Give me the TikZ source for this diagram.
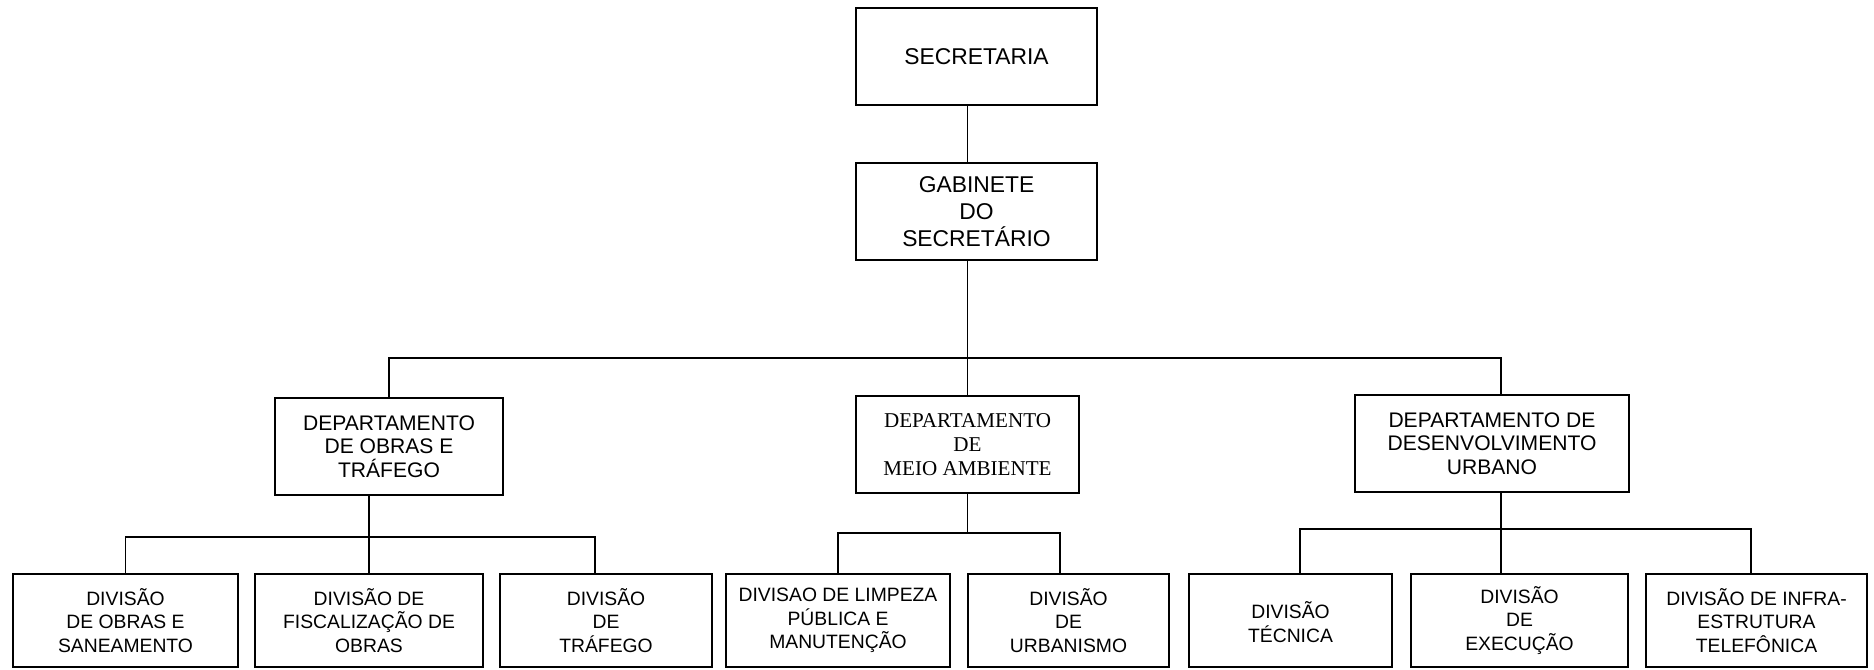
\documentclass[tikz,border=0pt]{standalone}
\usepackage{fontspec}
\setmainfont{Liberation Sans}
\newfontfamily\serifdep{Liberation Serif}
\usepackage{tikz}
\usetikzlibrary{positioning}

\begin{document}
\begin{tikzpicture}[
        caixa/.style={draw, line width=0.9pt, align=center, inner sep=0pt},
        topo/.style={caixa, minimum width=4.82cm, minimum height=1.94cm, font=\fontsize{13}{15.5}\selectfont},
        depto/.style={caixa, minimum height=1.94cm, font=\fontsize{12}{13.5}\selectfont},
        divisao/.style={caixa, minimum height=1.86cm, font=\fontsize{11}{13.5}\selectfont},
        liga/.style={line width=0.9pt}
    ]
        \useasboundingbox (0,0) rectangle (37.48,-13.38);

        % Topo
        \node[topo] (sec) at (19.53,-1.13) {SECRETARIA};
        \node[topo] (gab) at (19.53,-4.23) {GABINETE\\DO\\SECRETÁRIO};

        % Departamentos
        \node[depto, minimum width=4.56cm] (obr) at (7.78,-8.93) {DEPARTAMENTO\\DE OBRAS E\\TRÁFEGO};
        \node[depto, minimum width=4.46cm, font=\serifdep\fontsize{12}{13.5}\selectfont] (amb) at (19.35,-8.89) {DEPARTAMENTO\\DE\\MEIO AMBIENTE};
        \node[depto, minimum width=5.48cm] (urb) at (29.84,-8.87) {DEPARTAMENTO DE\\DESENVOLVIMENTO\\URBANO};

        % Divisoes
        \node[divisao, minimum width=4.50cm] (dobr) at (2.51,-12.41) {DIVISÃO\\DE OBRAS E\\SANEAMENTO};
        \node[divisao, minimum width=4.56cm] (dfis) at (7.38,-12.41) {DIVISÃO DE\\FISCALIZAÇÃO DE\\OBRAS};
        \node[divisao, minimum width=4.24cm] (dtra) at (12.12,-12.41) {DIVISÃO\\DE\\TRÁFEGO};
        \node[divisao, minimum width=4.48cm] (dlim) at (16.76,-12.41) {DIVISAO DE LIMPEZA\\PÚBLICA E\\MANUTENÇÃO};
        \node[divisao, minimum width=4.02cm] (durb) at (21.37,-12.41) {DIVISÃO\\DE\\URBANISMO};
        \node[divisao, minimum width=4.06cm] (dtec) at (25.81,-12.41) {\\[-0.2em]DIVISÃO\\TÉCNICA};
        \node[divisao, minimum width=4.34cm] (dexe) at (30.39,-12.41) {DIVISÃO\\DE\\EXECUÇÃO};
        \node[divisao, minimum width=4.42cm] (dinf) at (35.13,-12.41) {DIVISÃO DE INFRA-\\ESTRUTURA\\TELEFÔNICA};

        % Ligacoes do topo
        \coordinate (j0) at (19.35,-7.16);
        \draw[liga] (sec.south -| j0) -- (gab.north -| j0);
        \draw[liga] (gab.south -| j0) -- (j0) -- (amb.north);
        \draw[liga] (obr.north) |- (j0) -| ([xshift=1.8mm]urb.north);

        % Ligacoes das divisoes
        \coordinate (j1) at (7.38,-10.74);
        \draw[liga] ([xshift=-4.0mm]obr.south) -- (j1) -- (dfis.north);
        \draw[liga] (dobr.north) |- (j1) -| ([xshift=-2.2mm]dtra.north);

        \coordinate (j2) at (19.35,-10.66);
        \draw[liga] (amb.south) -- (j2);
        \draw[liga] (dlim.north) |- (j2) -| ([xshift=-1.7mm]durb.north);

        \coordinate (j3) at (30.02,-10.58);
        \draw[liga] ([xshift=1.8mm]urb.south) -- (j3) -- ([xshift=-3.7mm]dexe.north);
        \draw[liga] ([xshift=1.9mm]dtec.north) |- (j3) -| ([xshift=-1.1mm]dinf.north);

    \end{tikzpicture}
\end{document}
